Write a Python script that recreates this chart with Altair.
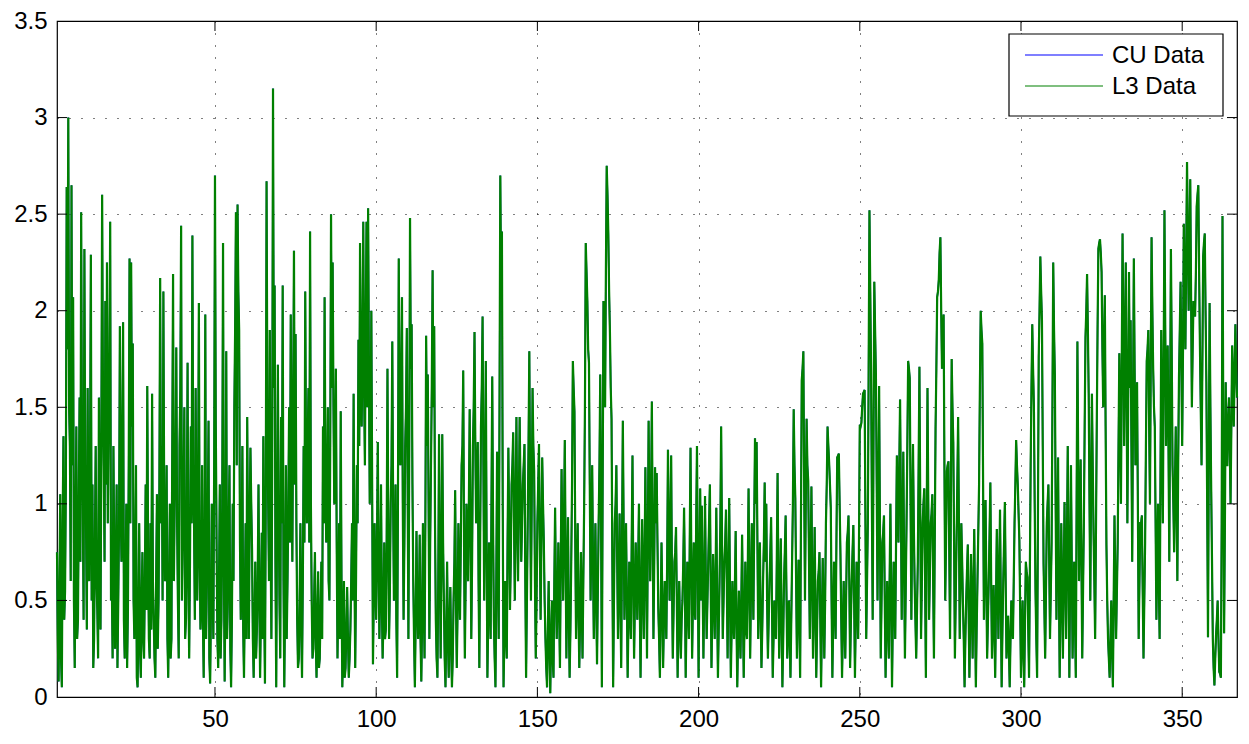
import altair as alt
import pandas as pd

# ---- data ----
# main samples at x = 1, 1.5, 2, ... 367 and in-between samples at x = 1.25, 1.75, ... 366.75
x_start = 1.0
x_step = 0.5
x_mid_start = 1.25

l3_values = [
    0.75, 0.08, 1.05, 0.05, 1.35, 0.55, 2.64, 3.0, 1.3, 2.65, 2.07, 0.15, 1.4, 0.4, 1.55, 2.51, 1.0, 2.32, 0.9, 1.6,
    0.6, 2.29, 1.1, 0.3, 1.3, 0.45, 1.55, 0.35, 2.6, 1.2, 2.05, 2.25, 1.4, 2.46, 0.6, 1.3, 0.25, 1.1, 0.5, 1.92,
    0.7, 1.94, 0.2, 1.0, 0.45, 2.27, 2.25, 1.83, 0.3, 1.2, 0.05, 0.9, 0.1, 0.75, 0.2, 1.1, 1.61, 0.3, 0.9, 1.57,
    0.4, 0.1, 1.05, 0.5, 2.17, 1.3, 2.1, 0.6, 1.2, 0.1, 1.0, 0.3, 2.19, 1.0, 1.81, 0.5, 1.3, 2.44, 0.8, 1.5,
    0.4, 1.73, 0.2, 1.4, 2.39, 0.9, 1.6, 0.5, 2.04, 0.35, 1.2, 0.1, 1.98, 0.6, 1.43, 0.07, 1.0, 0.3, 2.7, 0.8,
    0.15, 1.1, 0.4, 2.35, 0.08, 1.79, 0.5, 1.2, 0.05, 1.0, 1.5, 2.51, 2.55, 1.9, 0.4, 1.3, 0.1, 0.9, 1.45, 0.3,
    1.29, 0.76, 0.1, 0.7, 0.35, 1.1, 0.1, 0.85, 1.35, 0.07, 2.67, 1.0, 1.9, 0.3, 3.15, 2.13, 0.05, 1.72, 0.5, 1.45,
    2.13, 0.05, 1.2, 0.6, 1.5, 1.98, 0.7, 2.31, 1.88, 0.4, 0.2, 0.9, 0.1, 1.3, 2.1, 0.9, 1.6, 2.41, 0.5, 0.25,
    0.75, 0.1, 0.65, 0.2, 0.7, 1.4, 2.07, 0.8, 1.5, 0.5, 2.5, 2.25, 1.0, 1.7, 0.2, 0.9, 1.48, 0.05, 0.6, 0.15,
    0.57, 0.1, 0.35, 0.9, 1.57, 0.15, 1.2, 1.85, 2.35, 1.4, 2.46, 1.2, 2.46, 2.53, 1.0, 2.0, 0.17, 0.9, 0.4, 1.32,
    0.3, 1.1, 0.2, 0.8, 0.35, 1.7, 0.3, 1.0, 1.84, 0.5, 1.1, 0.1, 2.27, 1.2, 2.07, 0.4, 1.3, 1.91, 0.3, 2.48,
    1.93, 0.6, 0.05, 0.86, 0.3, 0.84, 0.08, 0.9, 0.2, 1.87, 1.67, 0.3, 1.2, 2.21, 1.92, 0.4, 0.1, 1.36, 0.2, 1.36,
    0.5, 0.05, 0.7, 0.1, 0.57, 0.05, 0.5, 1.07, 0.15, 0.9, 0.4, 1.2, 1.69, 0.2, 1.0, 0.6, 1.49, 0.3, 1.3, 1.89,
    0.9, 1.32, 0.15, 1.4, 1.97, 0.5, 1.74, 0.1, 0.8, 0.3, 1.66, 0.4, 0.05, 1.27, 0.3, 2.7, 2.41, 0.05, 0.6, 0.2,
    1.29, 0.45, 1.1, 1.37, 0.5, 1.45, 0.6, 1.45, 0.7, 1.1, 1.31, 0.1, 0.9, 1.79, 0.5, 1.6, 1.17, 0.2, 0.9, 1.31,
    0.4, 1.24, 0.8, 0.3, 0.05, 0.6, 0.02, 0.5, 0.1, 0.98, 0.3, 0.8, 0.15, 1.18, 0.5, 1.33, 0.2, 0.93, 0.1, 0.7,
    1.74, 1.48, 0.3, 0.9, 0.15, 0.75, 0.2, 0.98, 2.35, 2.05, 1.73, 0.5, 1.2, 0.3, 0.9, 0.17, 0.9, 1.67, 0.05, 2.05,
    1.5, 2.75, 2.4, 1.89, 1.44, 0.05, 0.9, 1.2, 0.3, 0.95, 0.15, 1.43, 0.4, 0.9, 0.1, 0.7, 0.3, 1.25, 0.2, 0.8,
    0.4, 1.0, 0.1, 0.92, 0.3, 1.19, 0.2, 1.43, 0.6, 1.53, 0.3, 1.19, 1.16, 0.46, 0.1, 0.8, 0.15, 0.6, 0.3, 1.28,
    0.5, 1.25, 0.2, 0.7, 0.88, 0.1, 0.6, 0.2, 0.5, 0.98, 0.1, 0.7, 0.3, 1.29, 0.2, 0.8, 0.4, 1.3, 0.1, 1.08,
    0.99, 0.2, 1.04, 0.3, 0.7, 1.1, 0.15, 0.74, 0.3, 0.98, 0.1, 0.6, 1.4, 0.3, 0.7, 0.97, 0.2, 1.03, 0.1, 0.6,
    0.3, 0.86, 0.05, 0.55, 0.2, 0.84, 0.1, 0.7, 0.3, 1.08, 0.2, 0.9, 0.4, 1.34, 1.32, 0.3, 0.8, 0.15, 0.6, 1.11,
    1.0, 0.2, 0.6, 0.93, 0.1, 0.5, 0.3, 1.16, 0.2, 0.82, 0.05, 0.6, 0.94, 0.2, 0.5, 0.1, 0.7, 1.49, 1.03, 0.2,
    0.71, 0.1, 1.64, 1.79, 0.5, 1.44, 1.12, 0.3, 1.09, 0.2, 0.88, 0.1, 0.6, 0.75, 0.05, 0.72, 0.2, 0.9, 1.4, 1.21,
    0.98, 0.1, 0.7, 0.3, 1.24, 1.26, 0.74, 0.1, 0.6, 0.2, 0.8, 0.94, 0.15, 0.6, 0.89, 0.1, 0.7, 0.3, 1.41, 1.42,
    1.57, 1.59, 0.3, 0.9, 2.52, 1.69, 0.4, 2.15, 1.67, 0.5, 1.61, 0.2, 0.8, 0.94, 0.1, 0.6, 0.2, 1.0, 0.05, 0.7,
    0.3, 1.25, 0.8, 1.54, 0.4, 1.27, 0.2, 0.9, 1.74, 1.65, 0.4, 1.31, 0.6, 0.2, 0.7, 1.71, 0.3, 0.9, 1.08, 0.1,
    1.6, 0.4, 0.9, 1.05, 0.2, 1.39, 2.07, 2.16, 2.38, 1.7, 1.98, 0.5, 1.17, 1.22, 0.3, 1.75, 1.32, 0.2, 0.8, 1.45,
    0.3, 0.9, 0.48, 0.05, 0.5, 0.79, 0.1, 0.74, 0.2, 0.87, 0.05, 0.6, 1.1, 2.0, 1.83, 0.4, 1.02, 0.2, 0.6, 1.11,
    0.2, 0.58, 0.1, 0.87, 0.3, 0.97, 0.05, 0.6, 1.01, 0.2, 0.42, 0.05, 0.5, 0.3, 0.9, 1.33, 1.1, 0.81, 0.1, 0.5,
    0.05, 0.7, 0.62, 0.1, 1.2, 1.93, 1.51, 0.55, 0.1, 1.76, 2.28, 1.95, 0.69, 0.2, 0.9, 1.1, 0.3, 0.8, 2.25, 1.67,
    0.4, 1.24, 0.1, 0.9, 0.2, 1.01, 0.3, 1.3, 0.1, 1.2, 0.2, 0.7, 0.1, 1.84, 0.6, 1.23, 0.2, 0.9, 1.86, 2.19,
    1.57, 0.5, 1.57, 0.86, 0.3, 1.4, 2.32, 2.37, 2.2, 1.5, 2.08, 0.79, 0.3, 0.1, 0.5, 0.05, 0.94, 0.3, 0.8, 1.78,
    1.0, 2.4, 1.3, 2.25, 0.9, 2.2, 1.95, 0.7, 2.27, 1.2, 1.63, 0.3, 0.9, 0.94, 0.2, 0.8, 1.74, 1.9, 1.0, 2.38,
    1.7, 1.4, 0.4, 1.0, 0.3, 1.9, 0.9, 2.52, 1.3, 1.82, 0.7, 2.32, 1.2, 0.75, 1.4, 0.6, 1.65, 2.15, 1.3, 2.45,
    1.8, 2.77, 2.0, 2.68, 1.5, 2.05, 1.97, 2.54, 2.65, 1.82, 1.2, 2.28, 2.4, 1.63, 0.31, 2.04, 1.07, 0.3, 0.06, 0.32,
    0.5, 0.13, 0.1, 2.49, 0.33, 1.63, 1.2, 1.55, 1.0, 1.82, 1.4, 1.93, 1.55,
]

l3_mid_values = [
    0.3, 0.55, 0.2, 0.9, 0.4, 1.1, 1.8, 1.5, 0.6, 1.2, 0.5, 0.9, 0.3, 1.0, 0.7, 1.3, 0.4, 1.1, 0.35, 0.8,
    1.2, 0.5, 0.15, 0.8, 0.6, 0.2, 0.9, 1.3, 1.6, 0.7, 1.1, 0.9, 1.7, 0.5, 0.2, 0.75, 0.6, 0.15, 0.9, 1.0,
    1.3, 0.4, 0.6, 0.15, 1.2, 0.9, 1.4, 0.5, 0.7, 0.1, 0.4, 0.25, 0.5, 0.3, 0.6, 0.45, 0.8, 0.2, 0.35, 0.6,
    0.2, 0.6, 0.25, 1.1, 0.9, 0.5, 1.0, 0.8, 0.3, 0.55, 0.2, 1.3, 0.6, 1.2, 0.9, 0.2, 1.6, 0.5, 1.1, 0.3,
    0.9, 0.6, 0.7, 0.9, 1.1, 0.4, 0.9, 1.0, 0.7, 0.5, 0.4, 0.8, 0.3, 0.9, 0.2, 0.45, 0.6, 1.2, 1.4, 0.3,
    0.6, 0.2, 1.0, 0.7, 0.6, 0.3, 0.9, 0.25, 0.4, 0.6, 1.9, 1.2, 2.1, 0.8, 0.7, 0.35, 0.5, 0.3, 0.8, 0.9,
    1.0, 0.3, 0.4, 0.2, 0.6, 0.5, 0.45, 0.3, 0.5, 1.0, 1.5, 0.6, 0.8, 1.2, 1.6, 0.7, 0.9, 1.0, 0.2, 0.9,
    0.6, 0.5, 0.3, 1.0, 0.8, 1.2, 1.5, 1.1, 0.9, 0.15, 0.5, 0.35, 0.6, 0.8, 1.2, 1.3, 0.8, 1.0, 0.2, 0.5,
    0.3, 0.4, 0.15, 0.45, 0.3, 0.9, 1.2, 1.0, 0.6, 1.3, 1.6, 1.5, 1.2, 0.8, 0.5, 0.3, 0.6, 0.25, 0.1, 0.35,
    0.3, 0.2, 0.6, 0.5, 0.7, 0.6, 0.9, 1.3, 1.7, 1.8, 1.6, 1.9, 1.5, 1.7, 1.3, 1.1, 0.5, 0.6, 0.8, 0.7,
    0.6, 0.5, 0.4, 0.3, 0.8, 0.9, 0.55, 1.2, 1.0, 0.7, 0.4, 1.0, 1.5, 1.6, 1.0, 0.8, 1.5, 1.1, 1.2, 1.7,
    1.1, 0.3, 0.4, 0.5, 0.45, 0.3, 0.4, 0.5, 0.9, 1.3, 1.0, 0.8, 1.6, 1.5, 0.9, 0.2, 0.6, 0.7, 0.7, 0.8,
    0.2, 0.35, 0.3, 0.4, 0.25, 0.2, 0.7, 0.5, 0.45, 0.6, 0.8, 1.3, 0.8, 0.6, 0.8, 1.0, 0.9, 0.7, 1.5, 1.3,
    1.1, 0.6, 0.8, 1.6, 1.2, 1.0, 0.8, 0.4, 0.5, 1.0, 0.9, 0.2, 0.6, 0.7, 1.5, 2.1, 1.0, 0.3, 0.35, 0.8,
    0.9, 0.7, 1.2, 0.9, 1.0, 0.9, 1.0, 1.1, 0.9, 1.2, 0.6, 0.5, 1.3, 1.1, 1.0, 1.3, 0.6, 0.5, 1.1, 0.8,
    0.8, 1.0, 0.5, 0.15, 0.35, 0.25, 0.3, 0.2, 0.6, 0.55, 0.5, 0.45, 0.7, 0.8, 0.9, 0.75, 0.6, 0.4, 0.35, 1.1,
    1.6, 0.8, 0.6, 0.45, 0.4, 0.5, 0.6, 1.5, 2.2, 1.8, 1.1, 0.85, 0.7, 0.6, 0.5, 0.55, 1.2, 0.9, 1.1, 1.7,
    2.2, 2.6, 2.1, 1.6, 0.7, 0.5, 1.0, 0.7, 0.6, 0.5, 0.8, 0.9, 0.65, 0.5, 0.4, 0.45, 0.8, 0.6, 0.5, 0.6,
    0.7, 0.5, 0.5, 0.6, 0.7, 0.65, 0.8, 0.9, 1.0, 0.9, 0.7, 0.9, 0.8, 0.3, 0.45, 0.5, 0.4, 0.45, 0.7, 0.9,
    0.8, 0.6, 0.45, 0.75, 0.5, 0.4, 0.35, 0.4, 0.7, 0.6, 0.4, 0.5, 0.8, 0.7, 0.5, 0.45, 0.9, 0.7, 0.6, 0.5,
    0.6, 0.55, 0.6, 0.5, 0.9, 0.6, 0.45, 0.5, 0.6, 0.5, 0.35, 0.9, 0.85, 0.5, 0.8, 0.6, 0.6, 0.55, 0.35, 0.4,
    0.55, 0.4, 0.3, 0.35, 0.5, 0.45, 0.4, 0.35, 0.65, 0.6, 0.55, 0.65, 0.9, 1.0, 0.8, 0.55, 0.45, 0.35, 0.8, 0.7,
    0.5, 0.4, 0.75, 0.5, 0.3, 0.4, 0.7, 0.6, 0.5, 0.4, 0.3, 0.75, 0.55, 0.35, 0.3, 0.4, 1.0, 1.2, 0.6, 0.45,
    0.4, 0.9, 1.7, 1.1, 1.0, 1.2, 0.7, 0.7, 0.6, 0.5, 0.45, 0.35, 0.65, 0.4, 0.4, 0.45, 0.5, 1.1, 1.3, 1.1,
    0.5, 0.4, 0.5, 0.8, 1.25, 1.0, 0.4, 0.35, 0.4, 0.5, 0.85, 0.6, 0.4, 0.75, 0.5, 0.4, 0.5, 0.8, 1.4, 1.5,
    1.58, 0.9, 0.6, 1.7, 2.1, 1.0, 1.3, 1.9, 1.1, 1.0, 0.9, 0.5, 0.85, 0.5, 0.35, 0.4, 0.6, 0.5, 0.4, 0.5,
    0.8, 1.0, 1.2, 1.0, 0.8, 0.7, 0.55, 1.3, 1.7, 1.0, 0.9, 0.9, 0.4, 0.45, 1.2, 1.0, 0.6, 1.0, 0.6, 0.9,
    1.0, 0.65, 0.95, 0.6, 0.8, 1.7, 2.1, 2.3, 2.0, 1.8, 1.2, 0.8, 1.2, 0.75, 1.0, 1.5, 0.8, 0.5, 1.1, 0.9,
    0.6, 0.7, 0.3, 0.3, 0.65, 0.45, 0.4, 0.5, 0.55, 0.45, 0.35, 0.85, 1.6, 1.9, 1.1, 0.7, 0.6, 0.4, 0.85, 0.6,
    0.4, 0.35, 0.5, 0.6, 0.65, 0.5, 0.35, 0.8, 0.6, 0.3, 0.25, 0.3, 0.4, 0.6, 1.1, 1.2, 0.95, 0.45, 0.3, 0.25,
    0.4, 0.65, 0.35, 0.65, 1.6, 1.7, 1.0, 0.3, 0.9, 2.0, 2.1, 1.3, 0.45, 0.55, 1.0, 0.7, 0.55, 1.5, 1.9, 1.0,
    0.8, 0.6, 0.5, 0.55, 0.6, 0.65, 0.8, 0.7, 0.65, 0.7, 0.45, 0.4, 1.0, 1.2, 0.9, 0.7, 0.55, 1.4, 2.0, 1.9,
    1.0, 1.1, 1.2, 0.6, 0.85, 1.9, 2.35, 2.3, 1.8, 1.8, 1.4, 0.5, 0.2, 0.3, 0.25, 0.5, 0.6, 0.55, 1.3, 1.4,
    1.7, 1.9, 1.8, 1.6, 1.5, 1.6, 1.3, 1.5, 1.7, 1.4, 1.0, 0.6, 0.9, 0.55, 0.5, 1.3, 1.8, 1.4, 1.7, 2.0,
    1.5, 0.9, 0.7, 0.6, 1.1, 1.4, 1.7, 1.9, 1.6, 1.3, 1.5, 1.8, 1.0, 1.1, 1.0, 1.2, 1.9, 1.7, 1.8, 2.1,
    2.3, 2.4, 2.3, 2.1, 1.8, 2.0, 2.2, 2.6, 2.2, 1.5, 1.7, 2.35, 2.0, 1.0, 1.2, 1.5, 0.7, 0.15, 0.2, 0.4,
    0.3, 0.12, 0.9, 1.4, 0.9, 1.2, 1.45, 1.3, 1.4, 1.6, 1.7, 1.7,
]

# the blue CU series lies exactly under the green L3 series in the reference
cu_values = list(l3_values)
cu_mid_values = list(l3_mid_values)

series_names = ["CU Data", "L3 Data"]
series_colors = ["#0000ff", "#008000"]
x_ticks = [50, 100, 150, 200, 250, 300, 350]
y_ticks = [0, 0.5, 1, 1.5, 2, 2.5, 3, 3.5]
y_inner_ticks = [0.5, 1, 1.5, 2, 2.5, 3]
x_domain = [1, 367]
y_domain = [0, 3.5]


def series_frame(main_vals, mid_vals, name):
    xs_main = [x_start + x_step * i for i in range(len(main_vals))]
    xs_mid = [x_mid_start + x_step * i for i in range(len(mid_vals))]
    frame = pd.DataFrame({"x": xs_main + xs_mid, "value": list(main_vals) + list(mid_vals)})
    frame = frame.sort_values("x").reset_index(drop=True)
    frame["series"] = name
    return frame


cu_df = series_frame(cu_values, cu_mid_values, series_names[0])
l3_df = series_frame(l3_values, l3_mid_values, series_names[1])

W, H = 1180, 676
TICK = 10
FONT = "Liberation Sans"

xscale = alt.Scale(domain=x_domain, nice=False, zero=False)
yscale = alt.Scale(domain=y_domain, nice=False, zero=False)
x_axis = alt.Axis(values=x_ticks, grid=True, gridDash=[1, 11], gridColor="#000000",
                  gridOpacity=1, ticks=False, domain=False, labelFont=FONT,
                  labelFontSize=24, labelColor="#000000", labelPadding=10,
                  labelFlush=False, title=None)
y_axis = alt.Axis(values=y_ticks, grid=True, gridDash=[1, 11], gridColor="#000000",
                  gridOpacity=1, ticks=False, domain=False, labelFont=FONT,
                  labelFontSize=24, labelColor="#000000", labelPadding=10,
                  format="~g", labelFlush=False, title=None)
color_scale = alt.Scale(domain=series_names, range=series_colors)

cu_line = alt.Chart(cu_df).mark_line(strokeWidth=1.6).encode(
    x=alt.X("x:Q", scale=xscale, axis=x_axis),
    y=alt.Y("value:Q", scale=yscale, axis=y_axis),
    color=alt.Color("series:N", scale=color_scale, legend=None),
)
l3_line = alt.Chart(l3_df).mark_line(strokeWidth=2.2).encode(
    x=alt.X("x:Q", scale=xscale, axis=x_axis),
    y=alt.Y("value:Q", scale=yscale, axis=y_axis),
    color=alt.Color("series:N", scale=color_scale, legend=None),
)

xt = pd.DataFrame({"t": x_ticks})
yt = pd.DataFrame({"t": y_inner_ticks})

bottom_ticks = alt.Chart(xt).mark_rule(color="black", strokeWidth=1).encode(
    x=alt.X("t:Q", scale=xscale, axis=x_axis), y=alt.value(H), y2=alt.value(H - TICK))
top_ticks = alt.Chart(xt).mark_rule(color="black", strokeWidth=1).encode(
    x=alt.X("t:Q", scale=xscale, axis=x_axis), y=alt.value(0), y2=alt.value(TICK))
left_ticks = alt.Chart(yt).mark_rule(color="black", strokeWidth=1).encode(
    y=alt.Y("t:Q", scale=yscale, axis=y_axis), x=alt.value(0), x2=alt.value(TICK))
right_ticks = alt.Chart(yt).mark_rule(color="black", strokeWidth=1).encode(
    y=alt.Y("t:Q", scale=yscale, axis=y_axis), x=alt.value(W), x2=alt.value(W - TICK))

# ---- legend box (top right, drawn as a guide) ----
LX0, LX1, LY0, LY1 = 952, 1166, 13, 95
row_y = [34, 65]
one = pd.DataFrame({"k": [0]})
legend_box = alt.Chart(one).mark_rect(fill="#ffffff", stroke="#000000", strokeWidth=1.2).encode(
    x=alt.value(LX0), x2=alt.value(LX1), y=alt.value(LY0), y2=alt.value(LY1))
legend_layers = [legend_box]
for name, col, ry in zip(series_names, series_colors, row_y):
    lab = pd.DataFrame({"label": [name]})
    legend_layers.append(
        alt.Chart(lab).mark_rule(color=col, strokeWidth=1.2).encode(
            x=alt.value(LX0 + 16), x2=alt.value(LX0 + 94), y=alt.value(ry)))
    legend_layers.append(
        alt.Chart(lab).mark_text(align="left", baseline="middle", font=FONT, fontSize=24,
                                 color="#000000").encode(
            text="label:N", x=alt.value(LX0 + 103), y=alt.value(ry + 1)))

chart = alt.layer(cu_line, l3_line, bottom_ticks, top_ticks, left_ticks, right_ticks,
                  *legend_layers).properties(
    width=W, height=H,
    autosize=alt.AutoSizeParams(type="none"),
    padding={"left": 49, "top": 13, "right": 2, "bottom": 37},
    background="#ffffff",
).configure_view(stroke="#000000", strokeWidth=1.2)

chart.save("out.html", embed_options={"renderer": "svg", "actions": False})
